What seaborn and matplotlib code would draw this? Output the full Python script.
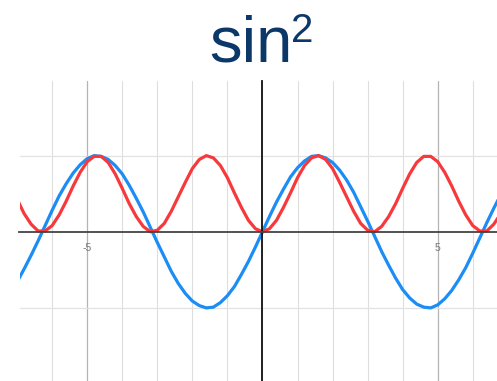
import numpy as np
import pandas as pd
import matplotlib
matplotlib.use('Agg')
import matplotlib.pyplot as plt
import seaborn as sns

# sample positions (step 0.2) and the values
x_vals = [round(-7.0 + 0.2 * i, 1) for i in range(71)]

sin_pos = [0.00, 0.20, 0.39, 0.56, 0.72, 0.84, 0.93, 0.99, 1.00, 0.97,
           0.91, 0.81, 0.68, 0.52, 0.33, 0.14, -0.06, -0.26, -0.44, -0.61,
           -0.76, -0.87, -0.95, -0.99, -1.00, -0.96, -0.88, -0.77, -0.63, -0.47,
           -0.28, -0.08, 0.12, 0.31, 0.49, 0.66]
sq_pos = [0.00, 0.04, 0.15, 0.32, 0.51, 0.71, 0.87, 0.97, 1.00, 0.95,
          0.83, 0.65, 0.46, 0.27, 0.11, 0.02, 0.00, 0.07, 0.20, 0.37,
          0.57, 0.76, 0.91, 0.99, 0.99, 0.92, 0.78, 0.60, 0.40, 0.22,
          0.08, 0.01, 0.01, 0.10, 0.24, 0.43]

# blue curve is odd, red curve is even around 0
sin_vals = [-v for v in sin_pos[:0:-1]] + sin_pos
sq_vals = sq_pos[:0:-1] + sq_pos

series_names = ['sin', 'sin2']
series_colors = ['#1b8df5', '#f8393c']

df = pd.DataFrame({
    'x': x_vals * 2,
    'y': sin_vals + sq_vals,
    'series': ['sin'] * len(x_vals) + ['sin2'] * len(x_vals),
})

sns.set_style('white')
plt.rcParams['font.family'] = ['Liberation Sans', 'DejaVu Sans']

fig = plt.figure(figsize=(4.97, 3.81), dpi=100)
ax = fig.add_axes([19.5 / 497, 0, 1 - 19.5 / 497, 300 / 381])

sns.lineplot(data=df, x='x', y='y', hue='series', hue_order=series_names,
             palette=series_colors, linewidth=2.3, legend=False, sort=False, ax=ax)

ax.set_xlim(-6.93, 6.69)
ax.set_ylim(-1.96, 1.98)
ax.set_xlabel('')
ax.set_ylabel('')

# grid: light lines every unit, darker at +-5
ax.set_xticks([-5, 5])
ax.set_xticks(range(-6, 7), minor=True)
ax.set_yticks([-1, 1])
ax.set_xticklabels(['-5', '5'])
ax.set_yticklabels([])
ax.grid(True, which='minor', axis='x', color='#dedede', linewidth=0.8)
ax.grid(True, which='major', axis='x', color='#b4b4b4', linewidth=0.9)
ax.grid(True, which='major', axis='y', color='#e2e2e2', linewidth=0.9)
ax.set_axisbelow(True)

for side in ['top', 'right']:
    ax.spines[side].set_visible(False)
ax.spines['left'].set_position('zero')
ax.spines['bottom'].set_position('zero')
ax.spines['left'].set_color('#111111')
ax.spines['bottom'].set_color('#444444')
ax.spines['left'].set_linewidth(1.3)
ax.spines['bottom'].set_linewidth(1.3)

ax.tick_params(axis='x', which='major', direction='inout', length=6, width=1.3,
               color='#222222', labelsize=7.5, labelcolor='#777777', pad=5)
ax.tick_params(axis='x', which='minor', direction='inout', length=4, width=1.1,
               color='#333333')
ax.tick_params(axis='y', which='major', direction='inout', length=4, width=1.1,
               color='#222222')

# title: "sin" with a raised 2
title_color = '#0b3769'
fig.text(209 / 497, 1 - 61 / 381, 'sin', fontsize=47, color=title_color,
         ha='left', va='baseline')
fig.text(291 / 497, 1 - 42 / 381, '2', fontsize=29, color=title_color,
         ha='left', va='baseline')

fig.savefig('out.png', dpi=100)
